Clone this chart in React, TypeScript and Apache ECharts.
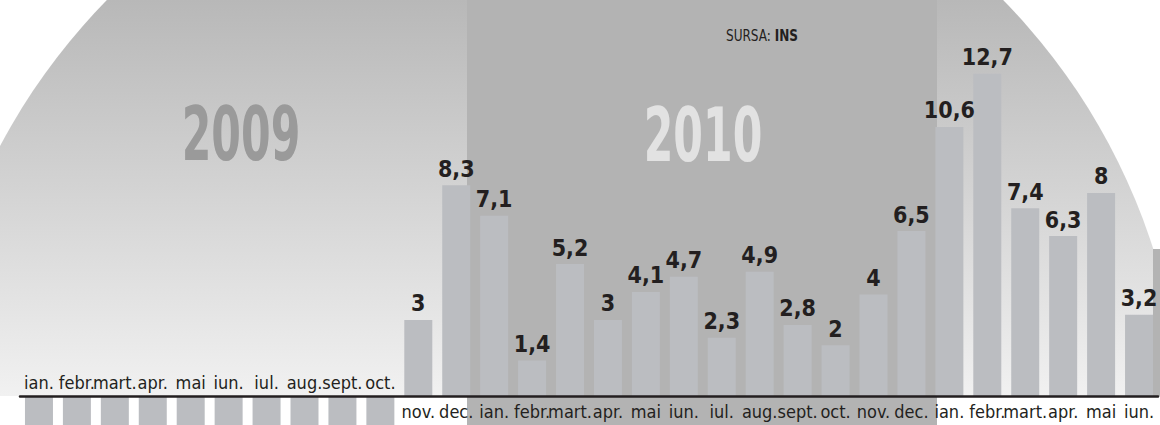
import React, { useEffect, useRef } from 'react';
import * as echarts from 'echarts';

// Category keys (year|month label)
const categories: string[] = [
  '2009|ian.', '2009|febr.', '2009|mart.', '2009|apr.', '2009|mai', '2009|iun.',
  '2009|iul.', '2009|aug.', '2009|sept.', '2009|oct.', '2009|nov.', '2009|dec.',
  '2010|ian.', '2010|febr.', '2010|mart.', '2010|apr.', '2010|mai', '2010|iun.',
  '2010|iul.', '2010|aug.', '2010|sept.', '2010|oct.', '2010|nov.', '2010|dec.',
  '2011|ian.', '2011|febr.', '2011|mart.', '2011|apr.', '2011|mai', '2011|iun.',
];

// Values (%)
const values: (number | null)[] = [
  null, null, null, null, null, null, null, null, null, null, 3, 8.3,
  7.1, 1.4, 5.2, 3, 4.1, 4.7, 2.3, 4.9, 2.8, 2, 4, 6.5,
  10.6, 12.7, 7.4, 6.3, 8, 3.2,
];

// Placeholder blocks below the axis for months without data
const placeholder: (number | null)[] = [
  -1.14, -1.14, -1.14, -1.14, -1.14, -1.14, -1.14, -1.14, -1.14, -1.14, null, null,
  null, null, null, null, null, null, null, null, null, null, null, null,
  null, null, null, null, null, null,
];

const yearLabels = ['2009', '2010'];
const sourceLabel = 'SURSA: ';
const sourceName = 'INS';

const NARROW = '"Liberation Sans Narrow", "DejaVu Sans Condensed", "Arial Narrow", sans-serif';
const DARK = '#231f20';
const BAR = '#bbbdc1';

const Y_MIN = -1.14;
const Y_MAX = 15.6;
const H = 425;

export default function App() {
  const ref = useRef<HTMLDivElement>(null);

  useEffect(() => {
    if (!ref.current) return;
    const chart = echarts.init(ref.current, undefined, { renderer: 'svg' });

    const monthOf = (v: string) => v.split('|')[1];
    const zeroOffset = -(H * (-Y_MIN)) / (Y_MAX - Y_MIN);

    const option: any = {
      animation: false,
      grid: {
        left: 20, right: 2, top: 0, bottom: 0,
        containLabel: false,
        outerBoundsMode: 'none',
      },
      xAxis: [
        {
          type: 'category',
          data: categories,
          position: 'bottom',
          offset: zeroOffset,
          z: 10,
          axisLine: { show: true, onZero: false, lineStyle: { color: DARK, width: 2.5 } },
          axisTick: { show: false },
          splitLine: { show: false },
          axisLabel: {
            interval: (i: number) => i >= 10,
            formatter: monthOf,
            margin: 6,
            fontSize: 18,
            fontFamily: NARROW,
            color: DARK,
          },
        },
        {
          type: 'category',
          data: categories,
          position: 'bottom',
          offset: zeroOffset,
          z: 10,
          axisLine: { show: false, onZero: false },
          axisTick: { show: false },
          splitLine: { show: false },
          axisLabel: {
            inside: true,
            interval: (i: number) => i < 10,
            formatter: monthOf,
            margin: 5,
            fontSize: 18,
            fontFamily: NARROW,
            color: DARK,
          },
        },
      ],
      yAxis: {
        type: 'value',
        min: Y_MIN,
        max: Y_MAX,
        show: false,
        splitLine: { show: false },
      },
      series: [
        {
          type: 'bar',
          data: values,
          barWidth: 28,
          itemStyle: { color: BAR },
          z: 2,
          label: {
            show: true,
            position: 'top',
            distance: 5,
            formatter: (p: any) => String(p.value).replace('.', ','),
            fontSize: 23,
            fontWeight: 'bold',
            fontFamily: NARROW,
            color: DARK,
          },
        },
        {
          type: 'bar',
          data: placeholder,
          barWidth: 28,
          barGap: '-100%',
          itemStyle: { color: BAR },
          z: 1,
          silent: true,
        },
      ],
      graphic: [
        {
          type: 'circle',
          z: -10,
          silent: true,
          shape: { cx: 555, cy: 440, r: 628 },
          style: {
            fill: new echarts.graphic.LinearGradient(0, 0, 0, 396, [
              { offset: 0, color: '#b8b8b8' },
              { offset: 1, color: '#f1f1f1' },
            ], true),
          },
        },
        {
          type: 'rect',
          z: -9,
          silent: true,
          shape: { x: 0, y: 396, width: 1160, height: 40 },
          style: { fill: '#ffffff' },
        },
        {
          type: 'rect',
          z: -8,
          silent: true,
          shape: { x: 467, y: 0, width: 470, height: 425 },
          style: { fill: '#b3b3b3' },
        },
        {
          type: 'rect',
          z: -8,
          silent: true,
          shape: { x: 1153, y: 249, width: 7, height: 147 },
          style: { fill: '#b3b3b3' },
        },
        {
          type: 'text',
          z: -5,
          silent: true,
          x: 241,
          y: 134,
          scaleX: 0.64,
          style: {
            text: yearLabels[0],
            fill: '#9a9a9a',
            fontSize: 74,
            fontWeight: 'bold',
            fontFamily: NARROW,
            align: 'center',
            verticalAlign: 'middle',
          },
        },
        {
          type: 'text',
          z: -5,
          silent: true,
          x: 703,
          y: 135,
          scaleX: 0.64,
          style: {
            text: yearLabels[1],
            fill: '#e2e2e2',
            fontSize: 74,
            fontWeight: 'bold',
            fontFamily: NARROW,
            align: 'center',
            verticalAlign: 'middle',
          },
        },
        {
          type: 'text',
          z: -5,
          silent: true,
          x: 762,
          y: 35,
          scaleX: 0.84,
          style: {
            text: '{a|' + sourceLabel + '}{b|' + sourceName + '}',
            align: 'center',
            verticalAlign: 'middle',
            rich: {
              a: { fontSize: 16, fontFamily: NARROW, fill: DARK, color: DARK },
              b: { fontSize: 16, fontFamily: NARROW, fontWeight: 'bold', fill: DARK, color: DARK },
            },
          },
        },
      ],
    };

    chart.setOption(option);
    return () => chart.dispose();
  }, []);

  return (
    <div
      ref={ref}
      style={{ position: 'absolute', left: 0, top: 0, width: 1160, height: H }}
    />
  );
}
